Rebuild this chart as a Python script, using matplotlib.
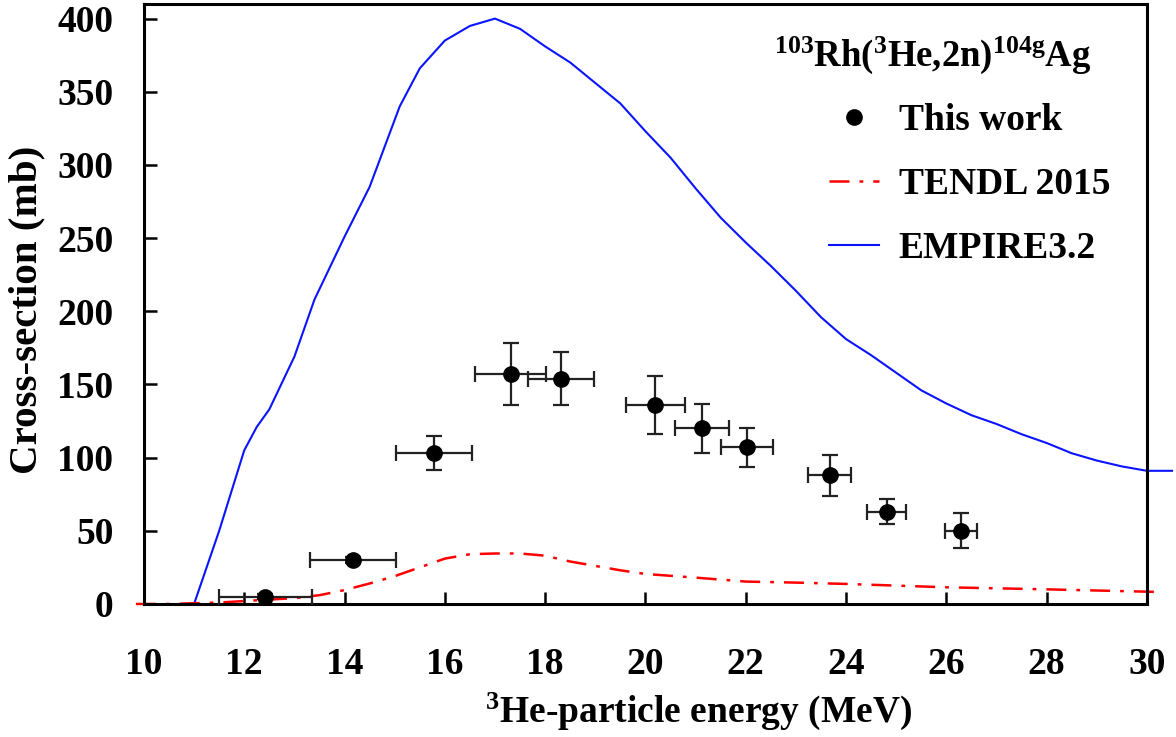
import matplotlib
matplotlib.use("Agg")
import matplotlib.pyplot as plt
from matplotlib.lines import Line2D

# ----- data -----
exp_e = [12.42, 14.17, 15.79, 17.31, 18.32, 20.20, 21.12, 22.02, 23.67, 24.81, 26.29]
exp_de = [0.93, 0.85, 0.76, 0.71, 0.66, 0.58, 0.54, 0.52, 0.43, 0.39, 0.32]
exp_xs = [5, 30, 103, 157, 154, 136, 120, 107, 88, 63, 50]
exp_dxs = [1.5, 2, 11.5, 21, 18, 20, 16.5, 13.5, 14, 8.5, 12]

empire_e = [11.0, 11.5, 12.0, 12.25, 12.5, 13.0, 13.4, 14.0, 14.5, 15.1, 15.5, 16.0, 16.5,
            17.0, 17.5, 18.0, 18.5, 19.0, 19.5, 20.0, 20.5, 21.0, 21.5, 22.0, 22.5, 23.0,
            23.5, 24.0, 24.5, 25.0, 25.5, 26.0, 26.5, 27.0, 27.5, 28.0, 28.5, 29.0, 29.5,
            30.0, 30.5]
empire_xs = [0, 50, 105, 121, 133, 169, 208, 251, 285, 340, 366, 385, 395,
             400, 393, 381, 370, 356, 342, 323, 305, 284, 264, 247, 231, 214,
             196, 181, 170, 158, 146, 137, 129, 123, 116, 110, 103, 98, 94,
             91, 91]

tendl_e = [9.84, 10.5, 11.0, 11.5, 12.0, 12.5, 13.0, 13.5, 14.0, 14.5, 15.0, 15.5, 16.0,
           16.5, 17.0, 17.5, 18.0, 18.5, 19.0, 19.5, 20.0, 21.0, 22.0, 23.0, 24.0, 26.0,
           28.0, 30.0, 30.2]
tendl_xs = [0, 0, 0.5, 1, 2, 3, 4, 6, 9.5, 14, 19, 25, 31,
            34, 34.5, 34.5, 33, 29, 26, 23, 20.5, 18, 15.3, 14.6, 13.7, 11.4,
            10, 8.4, 8.2]

x_ticks = [10, 12, 14, 16, 18, 20, 22, 24, 26, 28, 30]
y_ticks = [0, 50, 100, 150, 200, 250, 300, 350, 400]

# ----- style -----
plt.rcParams["font.family"] = ["Liberation Serif", "DejaVu Serif"]
plt.rcParams["font.weight"] = "bold"
plt.rcParams["mathtext.fontset"] = "custom"
plt.rcParams["mathtext.rm"] = "Liberation Serif:bold"
plt.rcParams["mathtext.it"] = "Liberation Serif:bold"
plt.rcParams["mathtext.bf"] = "Liberation Serif:bold"

dashdot = (0, (8, 4, 1.5, 4))

fig = plt.figure(figsize=(11.76, 7.37), dpi=100)
ax = fig.add_axes([0.1224, 0.1805, 0.8529, 0.8141])

ax.plot(empire_e, empire_xs, color="#0a14ff", lw=1.5, clip_on=False, zorder=2)
ax.plot(tendl_e, tendl_xs, color="#ff0000", lw=1.8, linestyle=dashdot,
        clip_on=False, zorder=2)
ax.errorbar(exp_e, exp_xs, xerr=exp_de, yerr=exp_dxs, fmt="o", color="black",
            ms=11, ecolor="#222222", elinewidth=1.6, capsize=5.5, capthick=1.6, zorder=3)

ax.set_xlim(10, 30)
ax.set_ylim(0, 410)
ax.set_xticks(x_ticks)
ax.set_yticks(y_ticks)
ax.tick_params(direction="in", length=9, width=1.8, labelsize=27, top=False, right=False)
ax.tick_params(axis="x", pad=31)
ax.tick_params(axis="y", pad=22)
for s in ax.spines.values():
    s.set_linewidth(2.2)

ax.set_xlabel(r"$^3$He-particle energy (MeV)", fontsize=27, fontweight="bold")
ax.xaxis.set_label_coords(0.553, -0.145)
ax.set_ylabel("Cross-section (mb)", fontsize=29.5, fontweight="bold")
ax.yaxis.set_label_coords(-0.098, 0.49)

ax.text(0.786, 0.915, r"$^{103}$Rh($^3$He,2n)$^{104g}$Ag", transform=ax.transAxes,
        ha="center", va="center", fontsize=26.5, fontweight="bold")

handles = [
    Line2D([], [], marker="o", color="black", ls="none", ms=11),
    Line2D([], [], color="#ff0000", lw=1.8, linestyle=dashdot),
    Line2D([], [], color="#0a14ff", lw=1.5),
]
labels = ["This work", "TENDL 2015", "EMPIRE3.2"]
ax.legend(handles, labels, loc="upper left", bbox_to_anchor=(0.683, 0.835),
          frameon=False, fontsize=27, borderpad=0, borderaxespad=0,
          handlelength=1.33, handletextpad=0.53, labelspacing=0.77)

fig.savefig("out.png", dpi=100)
